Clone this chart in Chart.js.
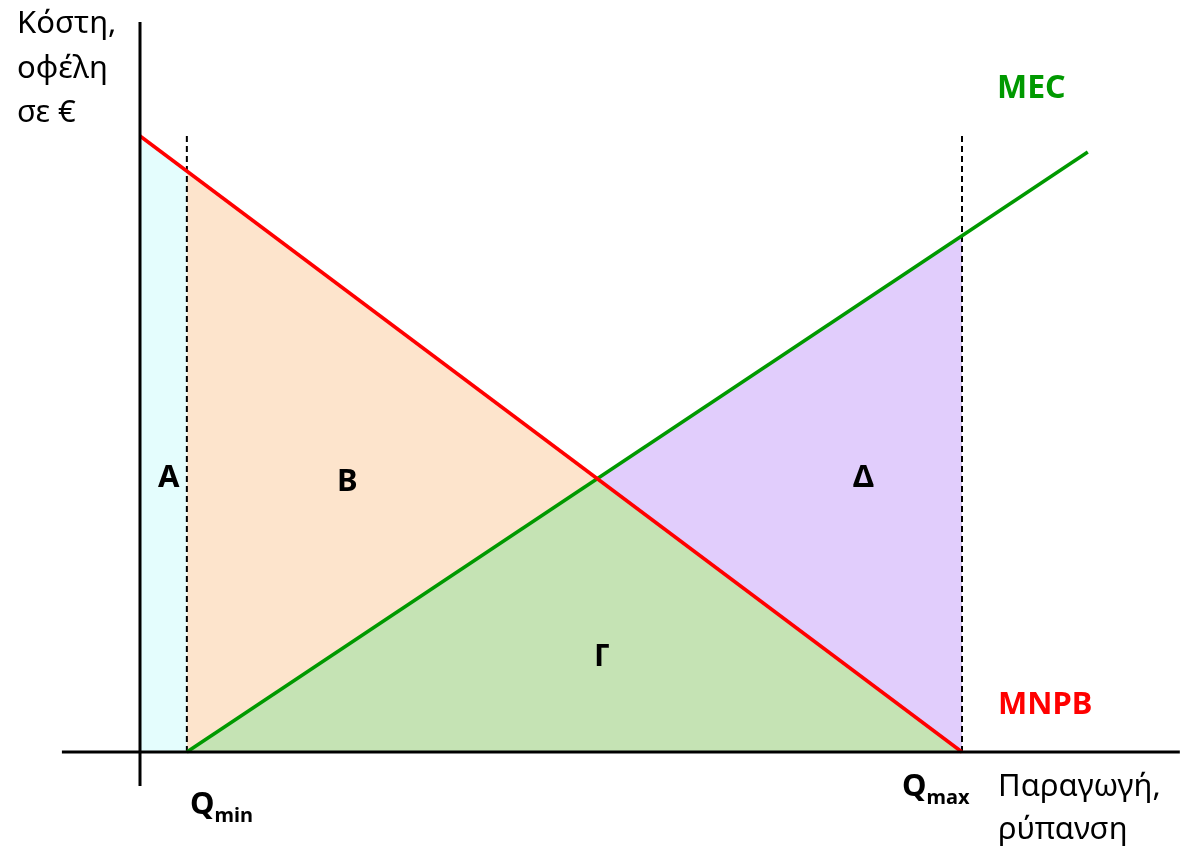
<!DOCTYPE html>
<html>
<head>
<meta charset="utf-8">
<script src="https://cdn.jsdelivr.net/npm/chart.js@4"></script>
<style>
  body { margin: 0; background: #fff; }
  #wrap { position: relative; width: 1182px; height: 849px; }
  .lbl { position: absolute; font-family: "Noto Sans", sans-serif; font-size: 31px; line-height: 31px; white-space: nowrap; color: #000; }
  .b { font-weight: bold; }
  .sub { font-size: 20px; position: relative; top: 8px; }
</style>
</head>
<body>
<div id="wrap">
  <canvas id="chart" width="1182" height="849"></canvas>
  <div class="lbl" style="left:17px;top:-1px;line-height:44.5px">Κόστη,<br>οφέλη<br>σε €</div>
  <div class="lbl b" style="left:997px;top:70px;font-size:32px;line-height:32px;color:#009900">MEC</div>
  <div class="lbl b" style="left:998px;top:687px;color:#ff0000">MNPB</div>
  <div class="lbl b" style="left:158px;top:460px">A</div>
  <div class="lbl b" style="left:337px;top:464px">B</div>
  <div class="lbl b" style="left:594px;top:639px">Γ</div>
  <div class="lbl b" style="left:853px;top:460px">Δ</div>
  <div class="lbl b" style="left:190px;top:787px">Q<span class="sub">min</span></div>
  <div class="lbl b" style="left:902px;top:769px">Q<span class="sub">max</span></div>
  <div class="lbl" style="left:998px;top:763px;line-height:43px">Παραγωγή,<br>ρύπανση</div>
</div>
<script>
// curves (quantity on x, € on y)
const mnpbQ = [0, 100];
const mnpbCost = [100, 0];
const mecQ = [5.7, 115.3];
const mecCost = [0, 97.4];
const qMin = 5.7;
const qMax = 100;

// value of a straight line (two points) at q
function lineAt(xs, ys, q) {
    return ys[0] + (ys[1] - ys[0]) * (q - xs[0]) / (xs[1] - xs[0]);
}
const pts = (xs, ys) => xs.map((x, i) => ({ x: x, y: ys[i] }));

// where MNPB meets MEC
const sA = (mnpbCost[1] - mnpbCost[0]) / (mnpbQ[1] - mnpbQ[0]);
const sB = (mecCost[1] - mecCost[0]) / (mecQ[1] - mecQ[0]);
const qStar = (mecCost[0] - sB * mecQ[0] - (mnpbCost[0] - sA * mnpbQ[0])) / (sA - sB);
const cStar = lineAt(mnpbQ, mnpbCost, qStar);

const redAtMin = lineAt(mnpbQ, mnpbCost, qMin);
const greenAtMax = lineAt(mecQ, mecCost, qMax);

function plain(data, color, width, extra) {
    return Object.assign({
        data: data, borderColor: color, borderWidth: width,
        pointRadius: 0, fill: false, tension: 0
    }, extra || {});
}
function area(data, color) {
    return { data: data, borderWidth: 0, borderColor: 'rgba(0,0,0,0)', backgroundColor: color,
             pointRadius: 0, fill: 'origin', tension: 0 };
}

const ctx = document.getElementById('chart');
new Chart(ctx, {
    type: 'line',
    data: {
        datasets: [
            plain([{ x: -9.5, y: 0 }, { x: 126.5, y: 0 }], '#000', 3),
            plain([{ x: 0, y: -5.5 }, { x: 0, y: 118.5 }], '#000', 3),
            plain(pts(mnpbQ, mnpbCost), '#ff0000', 3.5),
            plain(pts(mecQ, mecCost), '#009900', 3.5),
            plain([{ x: qMin, y: 0 }, { x: qMin, y: 100 }], '#000', 2, { borderDash: [6, 4] }),
            plain([{ x: qMax, y: 0 }, { x: qMax, y: 100 }], '#000', 2, { borderDash: [6, 4] }),
            // A
            area([{ x: 0, y: mnpbCost[0] }, { x: qMin, y: redAtMin }], '#e4fdfd'),
            // Γ
            area([{ x: qMin, y: 0 }, { x: qStar, y: cStar }, { x: qMax, y: 0 }], '#c5e3b4'),
            // Δ
            area([{ x: qStar, y: cStar }, { x: qMax, y: greenAtMax }], '#e1cdfc'),
            // B
            area([{ x: qMin, y: redAtMin }, { x: qStar, y: cStar }], '#fde4cc')
        ]
    },
    options: {
        responsive: false,
        animation: false,
        events: [],
        layout: { padding: 0 },
        plugins: {
            legend: { display: false },
            tooltip: { enabled: false },
            filler: { drawTime: 'beforeDatasetsDraw' }
        },
        scales: {
            x: { type: 'linear', display: false, min: -17.032, max: 126.764 },
            y: { type: 'linear', display: false, min: -15.747, max: 122.078 }
        }
    }
});
</script>
</body>
</html>
